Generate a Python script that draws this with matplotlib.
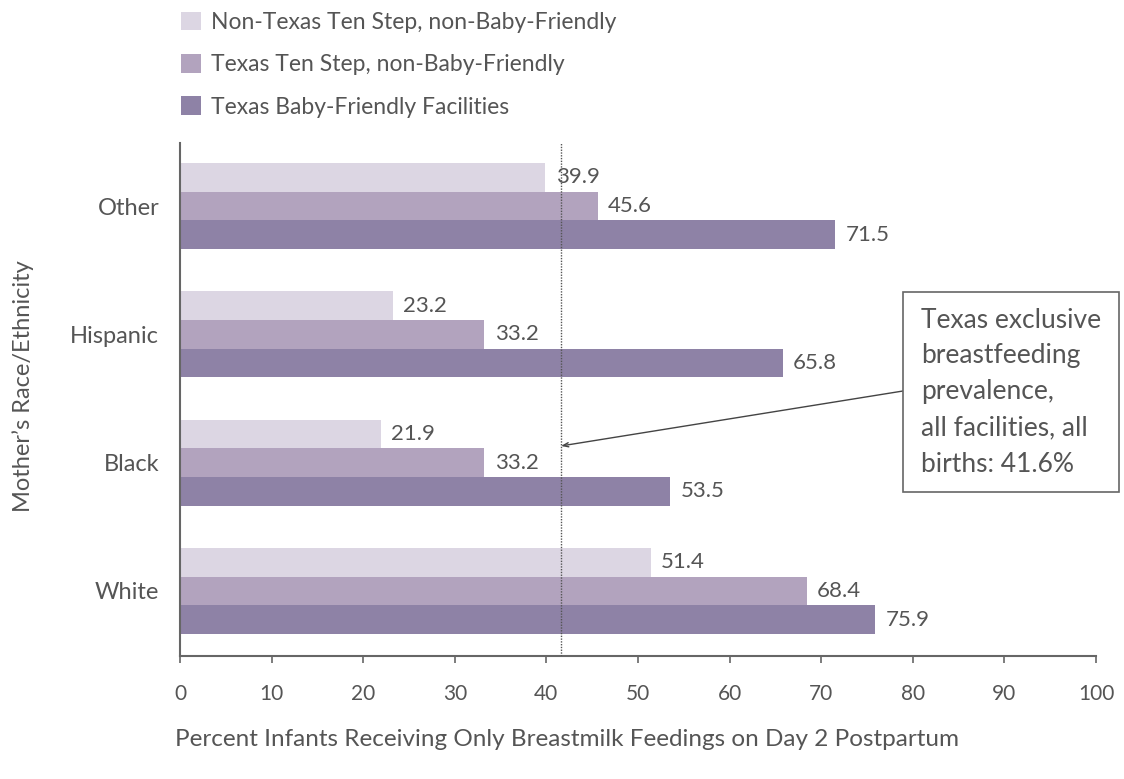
import matplotlib
matplotlib.use("Agg")
import matplotlib.pyplot as plt
from matplotlib.patches import Patch, Rectangle
import numpy as np

plt.rcParams['font.family'] = ['Lato', 'DejaVu Sans']

categories = ["White", "Black", "Hispanic", "Other"]
non_texas_ten_step = [51.4, 21.9, 23.2, 39.9]
texas_ten_step = [68.4, 33.2, 33.2, 45.6]
texas_baby_friendly = [75.9, 53.5, 65.8, 71.5]
series_names = ["Non-Texas Ten Step, non-Baby-Friendly",
                "Texas Ten Step, non-Baby-Friendly",
                "Texas Baby-Friendly Facilities"]
colors = ["#DCD6E3", "#B2A3BE", "#8E82A6"]
state_avg = 41.6
xticks = list(range(0, 101, 10))

TXT = "#555555"
W, H, DPI = 1124, 779, 100
fig = plt.figure(figsize=(W / DPI, H / DPI), dpi=DPI)
ax = fig.add_axes([180 / W, 1 - 656 / H, (1096 - 180) / W, (656 - 143) / H])

y = np.arange(len(categories))
bh = 0.224
series = [non_texas_ten_step, texas_ten_step, texas_baby_friendly]
offsets = [bh, 0, -bh]
for vals, off, col in zip(series, offsets, colors):
    bars = ax.barh(y + off, vals, height=bh, color=col, edgecolor='none', zorder=2)
    for b, v in zip(bars, vals):
        ax.annotate(f"{v:.1f}", (v, b.get_y() + b.get_height() / 2),
                    xytext=(7.5, 0), textcoords='offset points',
                    ha='left', va='center', fontsize=16, color=TXT, zorder=4)

ax.axvline(state_avg, color="#555555", linestyle=(0, (1, 1)), linewidth=1.0, zorder=3)

ax.set_xlim(0, 100)
ax.set_ylim(-0.507, 3.491)
ax.set_yticks(y)
ax.set_yticklabels(categories, fontsize=17, color=TXT)
ax.tick_params(axis='y', length=0, pad=15)
ax.set_xticks(xticks)
ax.set_xticklabels([str(t) for t in xticks], fontsize=15, color=TXT)
ax.tick_params(axis='x', length=5, width=1.2, color="#666666", pad=15)
for s in ['top', 'right']:
    ax.spines[s].set_visible(False)
for s in ['left', 'bottom']:
    ax.spines[s].set_color("#666666")
    ax.spines[s].set_linewidth(1.5)

fig.text(23 / W, 1 - 386 / H, "Mother\u2019s Race/Ethnicity", rotation=90,
         ha='center', va='center', fontsize=17, color=TXT)
fig.text(175 / W, 1 - 740 / H,
         "Percent Infants Receiving Only Breastmilk Feedings on Day 2 Postpartum",
         ha='left', va='center', fontsize=17.5, color=TXT)

handles = [Patch(facecolor=c, edgecolor='none') for c in colors]
fig.legend(handles, series_names, loc='upper left',
           bbox_to_anchor=(172 / W, 1 - 3 / H), frameon=False,
           fontsize=16.5, labelcolor=TXT, handlelength=0.85, handleheight=0.85,
           handletextpad=0.45, labelspacing=0.92, borderaxespad=0)

# annotation box
fig.add_artist(Rectangle((903 / W, 1 - 492 / H), (1119 - 903) / W, (492 - 292) / H,
                         transform=fig.transFigure, facecolor='white',
                         edgecolor='#666666', linewidth=1.2, zorder=5))
fig.text(921 / W, 1 - 392 / H,
         "Texas exclusive\nbreastfeeding\nprevalence,\nall facilities, all\nbirths: 41.6%",
         ha='left', va='center', fontsize=19, color=TXT, linespacing=1.55, zorder=6)
ax.annotate("", xy=(state_avg, 1.13), xycoords='data',
            xytext=(903, H - 391), textcoords='figure pixels',
            arrowprops=dict(arrowstyle='->,head_length=0.4,head_width=0.15',
                            color='#444444', linewidth=1.0,
                            shrinkA=0, shrinkB=0),
            zorder=5, annotation_clip=False)

fig.savefig("out.png", dpi=DPI)
